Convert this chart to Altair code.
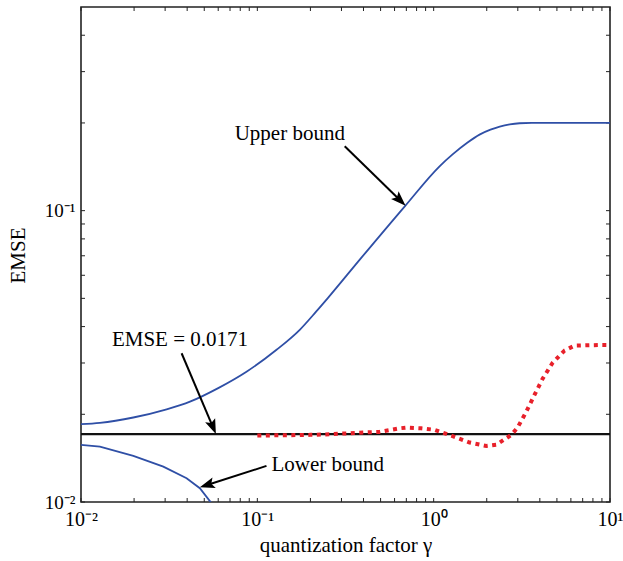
import altair as alt
import pandas as pd

# ---------------- data ----------------
upper_x = [0.01, 0.0128, 0.0198, 0.0306, 0.0415, 0.060, 0.0868, 0.1285, 0.174,
           0.216, 0.251, 0.381, 0.686, 1.08, 1.28, 1.55, 1.82, 2.1, 2.37, 2.7, 3.07, 3.6, 5.0, 10.0]
upper_y = [0.0185, 0.0187, 0.0195, 0.0208, 0.0221, 0.0246, 0.0280, 0.0333, 0.0390,
           0.0451, 0.0501, 0.0679, 0.1035, 0.142, 0.156, 0.171, 0.1824, 0.1897, 0.1944,
           0.1978, 0.1995, 0.2, 0.2, 0.2]

lower_x = [0.01, 0.0128, 0.0198, 0.0293, 0.0397, 0.0472, 0.0550]
lower_y = [0.0157, 0.01549, 0.01439, 0.01322, 0.01206, 0.01115, 0.0099]

red_x = [0.1, 0.2, 0.27, 0.415, 0.494, 0.64, 0.70, 0.85, 1.01, 1.26, 1.60, 1.99,
         2.27, 2.76, 2.99, 3.35, 3.73, 4.15, 4.72, 5.52, 6.29, 8.9, 10.0]
red_y = [0.0169, 0.0170, 0.0171, 0.01735, 0.0174, 0.0179, 0.0180, 0.0179, 0.0177,
         0.0169, 0.0160, 0.01557, 0.01573, 0.0170, 0.0180, 0.0204, 0.0233, 0.0265,
         0.0300, 0.0331, 0.0344, 0.0346, 0.0346]

emse_level = [0.0171]

ann_text = ["Upper bound", "EMSE = 0.0171", "Lower bound"]
ann_tx = [0.1528, 0.0364, 0.251]
ann_ty = [0.1839, 0.0360, 0.0134]

arrow_tail_x = [0.313, 0.0372, 0.1127]
arrow_tail_y = [0.1664, 0.0324, 0.0133]
arrow_tip_x = [0.693, 0.0582, 0.0472]
arrow_tip_y = [0.1040, 0.0171, 0.01123]
arrow_angle = [134.2, 157.5, 252.3]

x_major = [0.01, 0.1, 1.0, 10.0]
y_major = [0.01, 0.1]
x_ticks = [m * 10.0 ** e for e in (-2, -1, 0) for m in range(1, 10)] + [10.0]
y_ticks = [m * 10.0 ** e for e in (-2,) for m in range(1, 10)] + [0.1, 0.2, 0.3, 0.4]

# ---------------- tables ----------------
W, H = 529, 495
FONT = "Liberation Serif"
BLUE = "#2f4fa6"
RED = "#e8202a"

upper = pd.DataFrame({"x": upper_x, "y": upper_y})
lower = pd.DataFrame({"x": lower_x, "y": lower_y})
red = pd.DataFrame({"x": red_x, "y": red_y})
emse = pd.DataFrame({"y": emse_level})
ann = pd.DataFrame({"t": ann_text, "x": ann_tx, "y": ann_ty})

frac = 0.88
arrows = pd.DataFrame({
    "x": arrow_tail_x, "y": arrow_tail_y,
    "x2": [a ** (1 - frac) * b ** frac for a, b in zip(arrow_tail_x, arrow_tip_x)],
    "y2": [a ** (1 - frac) * b ** frac for a, b in zip(arrow_tail_y, arrow_tip_y)],
    "hx": arrow_tip_x, "hy": arrow_tip_y, "ang": arrow_angle,
})
xt = pd.DataFrame({"x": x_ticks})
yt = pd.DataFrame({"y": y_ticks})

xscale = alt.Scale(type="log", domain=[0.01, 10], nice=False)
yscale = alt.Scale(type="log", domain=[0.01, 0.5], nice=False)

xaxis = alt.Axis(
    values=x_major,
    labelExpr="datum.value < 0.05 ? '10⁻²' : datum.value < 0.5 ? '10⁻¹' : datum.value < 5 ? '10⁰' : '10¹'",
    ticks=False, grid=False, domain=False, labelFlush=False, labelOverlap=False,
    labelFont=FONT, labelFontSize=20, labelPadding=7, labelColor="black",
    title="quantization factor γ", titleFont=FONT, titleFontSize=21,
    titleFontWeight="normal", titleColor="black",
    titleX=W / 2, titleY=49, titleBaseline="alphabetic", titleAlign="center",
)
yaxis = alt.Axis(
    values=y_major,
    labelExpr="datum.value < 0.05 ? '10⁻²' : '10⁻¹'",
    ticks=False, grid=False, domain=False, labelFlush=False, labelOverlap=False,
    labelFont=FONT, labelFontSize=19, labelPadding=6, labelColor="black",
    title="EMSE", titleFont=FONT, titleFontSize=21, titleFontWeight="normal",
    titleColor="black", titleX=-63, titleY=248, titleBaseline="middle",
    titleAlign="center", titleAngle=270,
)


def X(f):
    return alt.X(f, type="quantitative", scale=xscale, axis=xaxis)


def Y(f):
    return alt.Y(f, type="quantitative", scale=yscale, axis=yaxis)


base_line = alt.Chart(emse).mark_rule(color="#111111", strokeWidth=2.2).encode(y=Y("y"))

upper_line = alt.Chart(upper).mark_line(color=BLUE, strokeWidth=1.8, clip=True,
                                        interpolate="monotone").encode(
    x=X("x"), y=Y("y"), order="x:Q")
lower_line = alt.Chart(lower).mark_line(color=BLUE, strokeWidth=1.8, clip=True).encode(
    x=X("x"), y=Y("y"), order="x:Q")
red_line = alt.Chart(red).mark_line(color=RED, strokeWidth=4, strokeDash=[4, 4.5],
                                    strokeCap="butt", clip=True).encode(
    x=X("x"), y=Y("y"), order="x:Q")

shafts = alt.Chart(arrows).mark_rule(color="black", strokeWidth=2).encode(
    x=X("x"), y=Y("y"), x2="x2", y2="y2")
heads = alt.Chart(arrows).mark_point(
    shape="M0,0 L0.72,2 L0,1.6 L-0.72,2 Z", filled=True, color="black",
    opacity=1, size=225, strokeWidth=0).encode(
    x=X("hx"), y=Y("hy"), angle=alt.Angle("ang", type="quantitative", scale=None))

labels = alt.Chart(ann).mark_text(font=FONT, fontSize=21, color="black",
                                  align="center", baseline="middle").encode(
    x=X("x"), y=Y("y"), text="t:N")

tick_style = dict(color="#222222", strokeWidth=1)
tb = alt.Chart(xt).mark_rule(**tick_style).encode(x=X("x"), y=alt.value(H), y2=alt.value(H - 4))
tt = alt.Chart(xt).mark_rule(**tick_style).encode(x=X("x"), y=alt.value(0), y2=alt.value(4))
tl = alt.Chart(yt).mark_rule(**tick_style).encode(y=Y("y"), x=alt.value(0), x2=alt.value(4))
tr = alt.Chart(yt).mark_rule(**tick_style).encode(y=Y("y"), x=alt.value(W), x2=alt.value(W - 4))

chart = alt.layer(
    tb, tt, tl, tr, base_line, upper_line, lower_line, red_line, shafts, heads, labels
).properties(
    width=W, height=H,
    padding={"left": 81, "top": 7, "right": 13, "bottom": 59},
    autosize=alt.AutoSizeParams(type="none"),
    background="white",
).configure_view(stroke="#222222", strokeWidth=1.6)

chart.save("out.html", embed_options={"renderer": "svg", "actions": False})
